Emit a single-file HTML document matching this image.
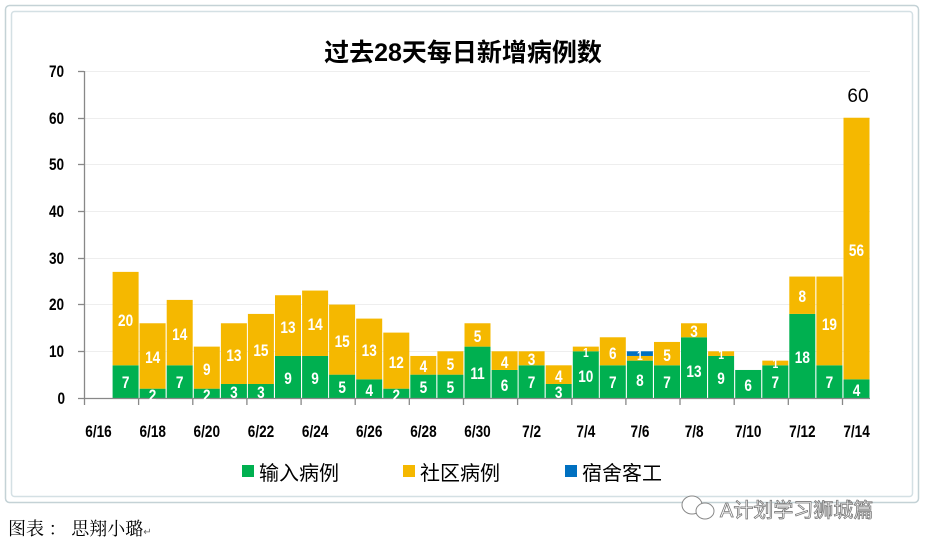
<!DOCTYPE html>
<html><head><meta charset="utf-8"><style>
html,body{margin:0;padding:0;background:#fff;}
svg{display:block;}
.v{font-family:"Liberation Sans",sans-serif;font-weight:bold;font-size:17px;fill:#fff;text-anchor:middle;}
.ax{font-family:"Liberation Sans",sans-serif;font-weight:bold;font-size:17px;fill:#000;}
.v text,.ax text{transform-box:fill-box;transform-origin:center;transform:scaleX(0.8);}
</style></head><body>
<svg width="926" height="547" xmlns="http://www.w3.org/2000/svg">
<rect x="5.5" y="5.5" width="913" height="497" rx="4" fill="#fff" stroke="#c4d2d6" stroke-width="1.5"/>
<rect x="11.5" y="11.5" width="901" height="485" rx="3" fill="#fff" stroke="#d4e0e4" stroke-width="1.5"/>
<text x="463" y="61" text-anchor="middle" font-family="'Liberation Sans','Noto Sans CJK SC',sans-serif" font-weight="bold" font-size="25">过去28天每日新增病例数</text>
<g stroke="#eeeeee" stroke-width="1">
<line x1="85" x2="870" y1="71.5" y2="71.5"/><line x1="85" x2="870" y1="118.5" y2="118.5"/><line x1="85" x2="870" y1="164.5" y2="164.5"/><line x1="85" x2="870" y1="211.5" y2="211.5"/><line x1="85" x2="870" y1="258.5" y2="258.5"/><line x1="85" x2="870" y1="304.5" y2="304.5"/><line x1="85" x2="870" y1="351.5" y2="351.5"/>
</g>
<g class="ax" text-anchor="end">
<text x="66" y="77">70</text><text x="66" y="124">60</text><text x="66" y="170">50</text><text x="66" y="217">40</text><text x="66" y="264">30</text><text x="66" y="310">20</text><text x="66" y="357">10</text><text x="66" y="404">0</text>
</g>
<g transform="matrix(1,0,0,-4.671,0,398)">
<g fill="#00b050">
<rect x="112.6" y="0" width="26" height="7"/><rect x="139.6" y="0" width="26" height="2"/><rect x="166.7" y="0" width="26" height="7"/><rect x="193.8" y="0" width="26" height="2"/><rect x="220.9" y="0" width="26" height="3"/><rect x="247.9" y="0" width="26" height="3"/><rect x="275" y="0" width="26" height="9"/><rect x="302.1" y="0" width="26" height="9"/><rect x="329.1" y="0" width="26" height="5"/><rect x="356.2" y="0" width="26" height="4"/><rect x="383.3" y="0" width="26" height="2"/><rect x="410.3" y="0" width="26" height="5"/><rect x="437.4" y="0" width="26" height="5"/><rect x="464.5" y="0" width="26" height="11"/><rect x="491.6" y="0" width="26" height="6"/><rect x="518.6" y="0" width="26" height="7"/><rect x="545.7" y="0" width="26" height="3"/><rect x="572.8" y="0" width="26" height="10"/><rect x="599.8" y="0" width="26" height="7"/><rect x="626.9" y="0" width="26" height="8"/><rect x="654" y="0" width="26" height="7"/><rect x="681" y="0" width="26" height="13"/><rect x="708.1" y="0" width="26" height="9"/><rect x="735.2" y="0" width="26" height="6"/><rect x="762.3" y="0" width="26" height="7"/><rect x="789.3" y="0" width="26" height="18"/><rect x="816.4" y="0" width="26" height="7"/><rect x="843.5" y="0" width="26" height="4"/>
</g>
<g fill="#f5b800">
<rect x="112.6" y="7" width="26" height="20"/><rect x="139.6" y="2" width="26" height="14"/><rect x="166.7" y="7" width="26" height="14"/><rect x="193.8" y="2" width="26" height="9"/><rect x="220.9" y="3" width="26" height="13"/><rect x="247.9" y="3" width="26" height="15"/><rect x="275" y="9" width="26" height="13"/><rect x="302.1" y="9" width="26" height="14"/><rect x="329.1" y="5" width="26" height="15"/><rect x="356.2" y="4" width="26" height="13"/><rect x="383.3" y="2" width="26" height="12"/><rect x="410.3" y="5" width="26" height="4"/><rect x="437.4" y="5" width="26" height="5"/><rect x="464.5" y="11" width="26" height="5"/><rect x="491.6" y="6" width="26" height="4"/><rect x="518.6" y="7" width="26" height="3"/><rect x="545.7" y="3" width="26" height="4"/><rect x="572.8" y="10" width="26" height="1"/><rect x="599.8" y="7" width="26" height="6"/><rect x="626.9" y="8" width="26" height="1"/><rect x="654" y="7" width="26" height="5"/><rect x="681" y="13" width="26" height="3"/><rect x="708.1" y="9" width="26" height="1"/><rect x="762.3" y="7" width="26" height="1"/><rect x="789.3" y="18" width="26" height="8"/><rect x="816.4" y="7" width="26" height="19"/><rect x="843.5" y="4" width="26" height="56"/>
</g>
<rect x="626.9" y="9" width="26" height="1" fill="#0070c0"/>
</g>
<g stroke="#888" stroke-width="1.3">
<line x1="84.5" y1="71" x2="84.5" y2="398"/><line x1="78" y1="398.5" x2="870" y2="398.5"/>
<line x1="78" y1="71.5" x2="84" y2="71.5"/><line x1="78" y1="118.5" x2="84" y2="118.5"/><line x1="78" y1="164.5" x2="84" y2="164.5"/><line x1="78" y1="211.5" x2="84" y2="211.5"/><line x1="78" y1="258.5" x2="84" y2="258.5"/><line x1="78" y1="304.5" x2="84" y2="304.5"/><line x1="78" y1="351.5" x2="84" y2="351.5"/>
<line x1="84.5" y1="398" x2="84.5" y2="405"/><line x1="138.6" y1="398" x2="138.6" y2="405"/><line x1="192.8" y1="398" x2="192.8" y2="405"/><line x1="246.9" y1="398" x2="246.9" y2="405"/><line x1="301.1" y1="398" x2="301.1" y2="405"/><line x1="355.2" y1="398" x2="355.2" y2="405"/><line x1="409.3" y1="398" x2="409.3" y2="405"/><line x1="463.5" y1="398" x2="463.5" y2="405"/><line x1="517.6" y1="398" x2="517.6" y2="405"/><line x1="571.8" y1="398" x2="571.8" y2="405"/><line x1="625.9" y1="398" x2="625.9" y2="405"/><line x1="680" y1="398" x2="680" y2="405"/><line x1="734.2" y1="398" x2="734.2" y2="405"/><line x1="788.3" y1="398" x2="788.3" y2="405"/><line x1="842.5" y1="398" x2="842.5" y2="405"/>
</g>
<g class="ax" text-anchor="middle">
<text x="98.5" y="437">6/16</text><text x="152.7" y="437">6/18</text><text x="206.8" y="437">6/20</text><text x="261" y="437">6/22</text><text x="315.1" y="437">6/24</text><text x="369.2" y="437">6/26</text><text x="423.4" y="437">6/28</text><text x="477.5" y="437">6/30</text><text x="531.6" y="437">7/2</text><text x="585.8" y="437">7/4</text><text x="640" y="437">7/6</text><text x="694.1" y="437">7/8</text><text x="748.2" y="437">7/10</text><text x="802.4" y="437">7/12</text><text x="856.5" y="437">7/14</text>
</g>
<g class="v">
<text x="125.6" y="388">7</text><text x="125.6" y="326">20</text>
<text x="152.6" y="401">2</text><text x="152.6" y="363">14</text>
<text x="179.7" y="388">7</text><text x="179.7" y="340">14</text>
<text x="206.8" y="401">2</text><text x="206.8" y="375">9</text>
<text x="233.9" y="398">3</text><text x="233.9" y="361">13</text>
<text x="260.9" y="398">3</text><text x="260.9" y="356">15</text>
<text x="288" y="384">9</text><text x="288" y="333">13</text>
<text x="315.1" y="384">9</text><text x="315.1" y="330">14</text>
<text x="342.1" y="393">5</text><text x="342.1" y="347">15</text>
<text x="369.2" y="396">4</text><text x="369.2" y="356">13</text>
<text x="396.3" y="401">2</text><text x="396.3" y="368">12</text>
<text x="423.3" y="393">5</text><text x="423.3" y="372">4</text>
<text x="450.4" y="393">5</text><text x="450.4" y="370">5</text>
<text x="477.5" y="379">11</text><text x="477.5" y="342">5</text>
<text x="504.6" y="391">6</text><text x="504.6" y="368">4</text>
<text x="531.6" y="388">7</text><text x="531.6" y="365">3</text>
<text x="558.7" y="398">3</text><text x="558.7" y="382">4</text>
<text x="585.8" y="382">10</text><text x="585.8" y="357" font-size="13">1</text>
<text x="612.8" y="388">7</text><text x="612.8" y="359">6</text>
<text x="639.9" y="386">8</text><text x="639.9" y="360" font-size="13">1</text>
<text x="667" y="388">7</text><text x="667" y="361">5</text>
<text x="694" y="377">13</text><text x="694" y="337">3</text>
<text x="721.1" y="384">9</text><text x="721.1" y="359" font-size="13">1</text>
<text x="748.2" y="391">6</text>
<text x="775.3" y="388">7</text><text x="775.3" y="368" font-size="13">1</text>
<text x="802.3" y="363">18</text><text x="802.3" y="302">8</text>
<text x="829.4" y="388">7</text><text x="829.4" y="330">19</text>
<text x="856.5" y="396">4</text><text x="856.5" y="256">56</text>
</g>
<text x="858" y="102" text-anchor="middle" font-family="'Liberation Sans',sans-serif" font-size="19">60</text>
<g font-family="'Liberation Sans','Noto Sans CJK SC',sans-serif" font-size="20">
<rect x="242" y="465" width="12" height="12" fill="#00b050"/><text x="259" y="480">输入病例</text>
<rect x="403" y="465" width="12" height="12" fill="#f5b800"/><text x="420" y="480">社区病例</text>
<rect x="565" y="465" width="12" height="12" fill="#0070c0"/><text x="582" y="480">宿舍客工</text>
</g>
<text x="720" y="517" font-family="'Liberation Sans','Noto Sans CJK SC',sans-serif" font-size="20" fill="#fff" stroke="#777" stroke-width="0.8">A计划学习狮城篇</text>
<g fill="#fff" stroke="#888" stroke-width="1"><ellipse cx="692" cy="505" rx="10" ry="9"/><ellipse cx="705" cy="511" rx="9" ry="8"/></g>
<text x="8" y="535" font-family="'Noto Serif CJK SC','Liberation Serif',serif" font-size="18">图表 ： 思翔小璐<tspan font-size="10" fill="#666">↵</tspan></text>
</svg>
</body></html>
